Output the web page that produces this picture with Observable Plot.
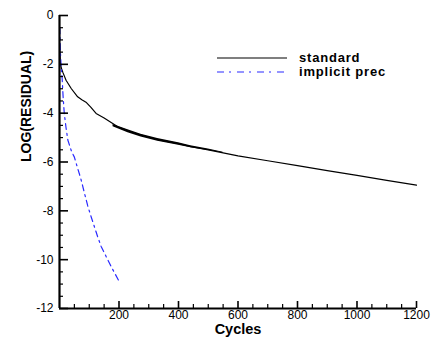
<!DOCTYPE html>
<html><head><meta charset="utf-8">
<script src="https://cdn.jsdelivr.net/npm/d3@7"></script>
<script src="https://cdn.jsdelivr.net/npm/@observablehq/plot@0.6"></script>
<style>
body{margin:0;background:#fff;}
#wrap{position:relative;width:438px;height:341px;font-family:"Liberation Sans",Arial,sans-serif;}
#legend{position:absolute;left:0;top:0;width:438px;height:100px;pointer-events:none;}
</style></head>
<body><div id="wrap"></div>
<script>
// standard scheme residual history
const standardX = [1,3,6,12,22,40,61,75,89,105,123,150,196,230,274,330,400,441,500,600,700,800,900,1000,1100,1200];
const standardY = [-1.4,-1.95,-2.15,-2.35,-2.65,-3.0,-3.33,-3.45,-3.55,-3.75,-4.01,-4.2,-4.56,-4.72,-4.9,-5.08,-5.25,-5.37,-5.5,-5.75,-5.95,-6.15,-6.35,-6.55,-6.75,-6.95];
// oscillation band of the standard scheme
const bandX  = [180,230,274,330,400,441,500,550];
const bandHi = [-4.46,-4.68,-4.86,-5.04,-5.21,-5.33,-5.47,-5.6];
const bandLo = [-4.56,-4.8,-4.98,-5.15,-5.31,-5.42,-5.53,-5.63];
// implicit preconditioning residual history
const implicitX = [1,3,6,9,12,16,22,28,40,50,56,72,84,95,106,128,140,162,173,201];
const implicitY = [-0.5,-1.5,-2.2,-2.6,-3.3,-4.0,-4.6,-5.1,-5.55,-5.8,-6.05,-6.7,-7.28,-7.8,-8.23,-9.05,-9.46,-10.0,-10.27,-10.9];
// axes
const xMajor = [200,400,600,800,1000,1200];
const xMinor = [50,100,150,250,300,350,450,500,550,650,700,750,850,900,950,1050,1100,1150];
const yMajor = [0,-2,-4,-6,-8,-10,-12];
const yMinor = [-0.5,-1,-1.5,-2.5,-3,-3.5,-4.5,-5,-5.5,-6.5,-7,-7.5,-8.5,-9,-9.5,-10.5,-11,-11.5];
const seriesNames = ["standard","implicit prec"];
const seriesColors = ["#000000","#2a2aff"];

const standard = standardX.map((x,i)=>({x, y: standardY[i]}));
const band = bandX.map((x,i)=>({x, lo: bandLo[i], hi: bandHi[i]}));
const implicit = implicitX.map((x,i)=>({x, y: implicitY[i]}));
const fmt = d => String(d);
const xMin = 0, yMin = -12;

const chart = Plot.plot({
  width: 438, height: 341,
  marginLeft: 59, marginRight: 22, marginTop: 15, marginBottom: 33,
  style: {fontFamily: '"Liberation Sans", Arial, sans-serif', fontSize: "12px", background: "#fff", overflow: "visible"},
  x: {domain: [0,1200]},
  y: {domain: [-12,0]},
  marks: [
    Plot.areaY(band, {x: "x", y1: "lo", y2: "hi", fill: seriesColors[0]}),
    Plot.line(standard, {x: "x", y: "y", stroke: seriesColors[0], strokeWidth: 1.2}),
    Plot.line(implicit, {x: "x", y: "y", stroke: seriesColors[1], strokeWidth: 1.2, strokeDasharray: "6,4,2,4"}),
    // labels
    Plot.axisX({ticks: xMajor, tickSize: 0, tickPadding: 2, label: null, fontSize: 12, fill: "#000", tickFormat: fmt, style: "letter-spacing:1.5px"}),
    Plot.axisY({ticks: yMajor, tickSize: 0, tickPadding: 6, label: null, fontSize: 12, fill: "#000", tickFormat: fmt, style: "letter-spacing:1.5px"}),
    // inward ticks
    Plot.ruleX(xMajor, {x: d => d, y1: () => yMin, y2: () => yMin, insetTop: -7, stroke: "#000", strokeWidth: 1.6}),
    Plot.ruleX(xMinor, {x: d => d, y1: () => yMin, y2: () => yMin, insetTop: -4, stroke: "#000", strokeWidth: 1.2}),
    Plot.ruleY(yMajor, {y: d => d, x1: () => xMin, x2: () => xMin, insetRight: -9, stroke: "#000", strokeWidth: 1.6}),
    Plot.ruleY(yMinor, {y: d => d, x1: () => xMin, x2: () => xMin, insetRight: -4, stroke: "#000", strokeWidth: 1.2}),
    Plot.ruleX([0], {strokeWidth: 2.2}),
    Plot.ruleY([-12], {strokeWidth: 2.2}),
    Plot.text(["Cycles"], {frameAnchor: "bottom", dy: 25, fontWeight: "bold", fontSize: 14.5, fill: "#000", style: "letter-spacing:1.2px"}),
    Plot.text(["LOG(RESIDUAL)"], {frameAnchor: "left", dx: -33, rotate: -90, fontWeight: "bold", fontSize: 14, fill: "#000"})
  ]
});
const wrap = document.getElementById("wrap");
wrap.appendChild(chart);

// legend overlay
const ns = "http://www.w3.org/2000/svg";
const leg = document.createElementNS(ns, "svg");
leg.setAttribute("id","legend");
leg.setAttribute("width",438); leg.setAttribute("height",100);
seriesNames.forEach((name,i)=>{
  const yy = 58 + i*14;
  const l = document.createElementNS(ns,"line");
  l.setAttribute("x1",217); l.setAttribute("x2",287);
  l.setAttribute("y1",yy); l.setAttribute("y2",yy);
  l.setAttribute("stroke",seriesColors[i]); l.setAttribute("stroke-width",1.2);
  if(i===1) l.setAttribute("stroke-dasharray","7,5,2,6");
  leg.appendChild(l);
  const t = document.createElementNS(ns,"text");
  t.setAttribute("x",299); t.setAttribute("y",yy+4);
  t.setAttribute("font-family",'"Liberation Sans", Arial, sans-serif');
  t.setAttribute("font-weight","bold"); t.setAttribute("font-size",13);
  t.setAttribute("letter-spacing","0.8");
  t.textContent = name;
  leg.appendChild(t);
});
wrap.appendChild(leg);
</script></body></html>
